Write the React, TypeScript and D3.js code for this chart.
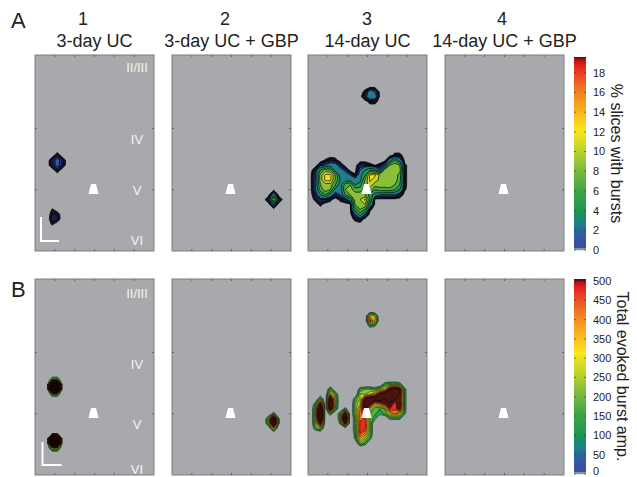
import React from "react";
import * as d3 from "d3";

const FONT = "'Liberation Sans', Arial, Helvetica, sans-serif";

// layout
const panelX = [35, 172, 308, 445];
const rowY = [55, 279];
const PW = 119;
const PH = 196;
const NX = 24;
const NY = 40;

const columnNumbers = ["1", "2", "3", "4"];
const numberX = [83, 225, 367, 502];
const columnTitles = ["3-day UC", "3-day UC + GBP", "14-day UC", "14-day UC + GBP"];
const rowLetters = ["A", "B"];
const letterY = [28, 297];
const layerNames = ["II/III", "IV", "V", "VI"];
const layerYA = [12, 84, 135, 185];
const layerYB = [14, 85, 145, 190];

const pctTicks = [0, 2, 4, 6, 8, 10, 12, 14, 16, 18];
const ampTicks = [0, 50, 100, 150, 200, 250, 300, 350, 400, 450, 500];
const pctLevels = [0.3, 0.6, 1, 1.5, 2, 4, 6, 8, 10, 12, 14, 16, 18];
const ampLevels = [100, 150, 200, 250, 300, 350, 400, 450, 500, 600, 800, 1000, 1300, 1600, 2000];

// sparse grid rows: [row, first column, values...]
const pctA1 = [
  [20, 4, [0.8]],
  [21, 3, [0.9, 2, 0.9]],
  [22, 3, [0.9, 1.9, 0.8]],
  [23, 4, [0.7]],
  [31, 3, [0.35]],
  [32, 3, [0.6, 0.6]],
  [33, 3, [0.8, 0.7]],
  [34, 3, [0.4]],
];
const pctA2 = [
  [28, 20, [3]],
  [29, 19, [1.2, 10, 1.2]],
  [30, 20, [2]],
];
const pctA3 = [
  [7, 11, [0.5, 3, 2]],
  [8, 11, [1.2, 3.5, 3]],
  [9, 12, [0.6, 0.6]],
  [20, 17, [0.6, 0.6]],
  [21, 3, [0.4, 0.8, 0.6]],
  [21, 16, [3, 6, 3]],
  [22, 2, [1, 2, 3, 3, 1, 0, 0, 0, 1, 1, 0.5, 0.3, 0.5, 2, 8, 9.5, 8, 0.5]],
  [23, 1, [1, 6, 9, 8, 3, 3, 1.5, 0, 0, 2, 4, 6, 5, 2, 9, 9.5, 9.5, 9, 0.5]],
  [24, 1, [2, 9, 12.5, 12.5, 8, 3, 3, 2, 0.4, 3, 6, 12.5, 12.5, 9.5, 9.5, 9.5, 9.5, 7, 0.5]],
  [25, 1, [2, 9, 12.5, 12.5, 8, 4, 3, 3, 3, 3, 8, 12.5, 11, 9.5, 9.5, 9.5, 9, 7, 0.5]],
  [26, 1, [2, 8, 9, 9, 6, 3, 7, 8, 4, 5, 9, 11, 9, 9, 9, 9.5, 8, 6, 0.5]],
  [27, 1, [2, 7, 9, 8, 3, 2, 8, 9, 7, 7, 9, 9, 6, 7, 7, 7, 6, 4, 0.4]],
  [28, 1, [1, 4, 6, 3, 1, 2, 6, 8, 9, 9, 8, 5, 3, 2, 2, 2, 2, 1]],
  [29, 1, [0.5, 1, 1, 0.5, 0, 0.5, 1, 3, 9, 10, 12.5, 6]],
  [30, 2, [0.5, 0, 0, 0, 0, 0, 0, 8, 9, 10, 4]],
  [31, 9, [5, 8, 6, 0.5]],
  [32, 9, [2, 5, 2]],
  [33, 9, [0.5, 1]],
];
const pctA4 = [];

const ampB1 = [
  [20, 3, [200, 200]],
  [21, 3, [2000, 2000]],
  [22, 3, [2000, 2000]],
  [23, 3, [200, 200]],
  [32, 3, [2000, 2000]],
  [33, 3, [2000, 2000]],
  [34, 3, [300, 300]],
];
const ampB2 = [
  [27, 20, [160]],
  [28, 19, [240, 900, 120]],
  [29, 19, [240, 900, 120]],
  [30, 20, [320]],
];
const ampB3 = [
  [7, 12, [350, 250]],
  [8, 12, [480, 350]],
  [9, 12, [160, 120]],
  [21, 15, [160, 200, 200, 160]],
  [22, 4, [200]],
  [22, 10, [160, 200, 200, 160, 250, 300, 600, 700, 600, 140]],
  [23, 4, [400, 200]],
  [23, 10, [250, 250, 300, 400, 600, 700, 800, 700, 600, 140]],
  [24, 2, [240, 0, 700, 240]],
  [24, 9, [160, 250, 600, 700, 700, 700, 600, 700, 600, 550, 140]],
  [25, 1, [160, 600, 0, 800, 240]],
  [25, 9, [200, 300, 700, 600, 300, 400, 500, 600, 450, 600, 140]],
  [26, 1, [240, 900, 0, 700, 200, 0, 140]],
  [26, 9, [200, 400, 600, 300, 150, 150, 200, 500, 470, 550, 140]],
  [27, 1, [240, 1000, 0, 160, 0, 180, 700]],
  [27, 9, [200, 420, 500, 200, 160, 120, 160, 300, 400, 300, 120]],
  [28, 1, [240, 900, 0, 0, 0, 180, 900, 0, 160, 440, 460, 200, 120, 0, 0, 120, 120, 120]],
  [29, 1, [240, 600, 0, 0, 0, 120, 600, 0, 160, 460, 480, 200]],
  [30, 1, [160, 240]],
  [30, 9, [160, 470, 480, 200]],
  [31, 9, [140, 460, 400, 200]],
  [32, 9, [120, 380, 250, 140]],
  [33, 10, [240, 160]],
];
const ampB4 = [];

const panelData = [
  [pctA1, pctA2, pctA3, pctA4],
  [ampB1, ampB2, ampB3, ampB4],
];

// colormap shared by both colour bars (fraction of bar range)
const cmapStops = [0, 0.08, 0.13, 0.2, 0.32, 0.43, 0.53, 0.62, 0.72, 0.82, 0.91, 0.96, 0.985, 1];
const cmapColors = ["#3f4d9e", "#3558a8", "#1f7f8a", "#1a9550", "#45a844", "#86bf3c", "#c4d52c", "#fbe51a", "#f8b31e", "#f27d22", "#e94522", "#e0201e", "#b01010", "#5a0808"];
const cmap = d3.scaleLinear<string>().domain(cmapStops).range(cmapColors).clamp(true);
const pctMax = 19.6;
const ampMax = 505;
const pctLow = d3.scaleLinear<string>().domain([0.3, 1.2]).range(["#121218", "#283278"]).clamp(true);
const pctColor = (v: number) => (v < 1.2 ? pctLow(v) : cmap(v / pctMax));
const ampDark = d3.scaleLinear<string>().domain([500, 2000]).range(["#4f150e", "#120707"]).clamp(true);
const ampColor = (v: number) => (v > 500 ? ampDark(v) : cmap(v / ampMax));

const xTick = d3.scaleLinear().domain([0, 6]).range([0, PW]);
const yTick = d3.scaleLinear().domain([0, 3.2]).range([0, PH]);
const xTickValues = [1, 2, 3, 4, 5];
const yTickValues = [1.2, 2.2];

function toGrid(rows: any[]) {
  const g = new Array(NX * NY).fill(0);
  rows.forEach(([r, c, vals]) => vals.forEach((v: number, i: number) => { g[r * NX + c + i] = v; }));
  return g;
}

const proj = d3.geoTransform({
  point(x: number, y: number) {
    (this as any).stream.point((x * PW) / NX, (y * PH) / NY);
  },
});
const geo = d3.geoPath(proj);

function Blobs({ rows, levels, color, frac, sw, so }: any) {
  if (!rows.length) return null;
  const cs = d3.contours().size([NX, NY]).thresholds(levels)(toGrid(rows));
  return (
    <g>
      {cs.map((c, i) => {
        if (!c.coordinates.length) return null;
        const hi = i < levels.length - 1 ? levels[i + 1] : levels[i] * 1.05;
        return (
          <path key={i} d={geo(c as any) || ""} fill={color(levels[i] + (hi - levels[i]) * frac)}
            stroke="#000" strokeWidth={sw} strokeOpacity={so} strokeLinejoin="round" />
        );
      })}
    </g>
  );
}

function Colorbar({ y0, y1, max, ticks, title, titleX, color }: any) {
  const x = 574, w = 12;
  const s = d3.scaleLinear().domain([0, max]).range([y1, y0]);
  const rows = d3.range(Math.floor(y0), Math.ceil(y1));
  return (
    <g>
      {rows.map((py) => {
        const v = s.invert(py + 0.5);
        return <rect key={py} x={x} y={py} width={w} height={1.2} fill={v < max * 0.012 ? "#8d8f99" : color(v)} />;
      })}
      {ticks.map((t: number) => (
        <g key={t}>
          <line x1={x} x2={x + 2} y1={s(t)} y2={s(t)} stroke="#333" strokeOpacity={0.6} />
          <line x1={x + w - 2} x2={x + w} y1={s(t)} y2={s(t)} stroke="#333" strokeOpacity={0.6} />
          <text x={593} y={Math.min(s(t), 471)} dy="0.36em" fontSize={11} fill="#222" fontFamily={FONT}>{t}</text>
        </g>
      ))}
      <text transform={`translate(${titleX},${(y0 + y1) / 2}) rotate(90)`} textAnchor="middle"
        fontSize={16} fill="#222" fontFamily={FONT}>{title}</text>
    </g>
  );
}

const App = () => {
  return (
    <svg width={637} height={477} style={{ position: "absolute", left: 0, top: 0, background: "#fff" }}>
      {columnNumbers.map((n, i) => (
        <text key={n} x={numberX[i]} y={25} textAnchor="middle" fontSize={18} fill="#222" fontFamily={FONT}>{n}</text>
      ))}
      {columnTitles.map((t, i) => (
        <text key={t} x={panelX[i] + PW / 2} y={47} textAnchor="middle" fontSize={18} fill="#222" fontFamily={FONT}>{t}</text>
      ))}
      {rowLetters.map((l, i) => (
        <text key={l} x={11} y={letterY[i]} fontSize={22} fill="#222" fontFamily={FONT}>{l}</text>
      ))}
      {rowY.map((py, ri) =>
        panelX.map((px, ci) => (
          <g key={`${ri}-${ci}`} transform={`translate(${px},${py})`}>
            <rect width={PW} height={PH} fill="#a7a9ac" stroke="#7b7c80" strokeWidth={1} />
            <Blobs rows={panelData[ri][ci]} levels={ri ? ampLevels : pctLevels} color={ri ? ampColor : pctColor}
              frac={ri ? 0.5 : 0.25} sw={ri ? 0.7 : 0.9} so={ri ? 0.65 : 0.75} />
            {xTickValues.map((t) => (
              <g key={t}>
                <line x1={xTick(t)} x2={xTick(t)} y1={0} y2={2} stroke="#666" />
                <line x1={xTick(t)} x2={xTick(t)} y1={PH - 2} y2={PH} stroke="#666" />
              </g>
            ))}
            {yTickValues.map((t) => (
              <g key={t}>
                <line x1={0} x2={2} y1={yTick(t)} y2={yTick(t)} stroke="#666" />
                <line x1={PW - 2} x2={PW} y1={yTick(t)} y2={yTick(t)} stroke="#666" />
              </g>
            ))}
            <path d="M56,129 L61,129 L63.5,139 L53.5,139 Z" fill="#fff" />
            {ci === 0 && (
              <g>
                {layerNames.map((n, k) => (
                  <text key={n} x={102} y={(ri ? layerYB : layerYA)[k]} dy="0.36em" textAnchor="middle"
                    fontSize={13} fill="#f4f4f4" fontFamily={FONT}>{n}</text>
                ))}
                <path d={ri ? "M7.5,163 V186 H26.5" : "M6,162 V186 H24"} fill="none" stroke="#fff" strokeWidth={2} />
              </g>
            )}
          </g>
        ))
      )}
      <Colorbar y0={57} y1={250} max={pctMax} ticks={pctTicks} title="% slices with bursts" titleX={611} color={(v: number) => cmap(v / pctMax)} />
      <Colorbar y0={279} y1={474} max={ampMax} ticks={ampTicks} title="Total evoked burst amp." titleX={617} color={ampColor} />
    </svg>
  );
};

export default App;
